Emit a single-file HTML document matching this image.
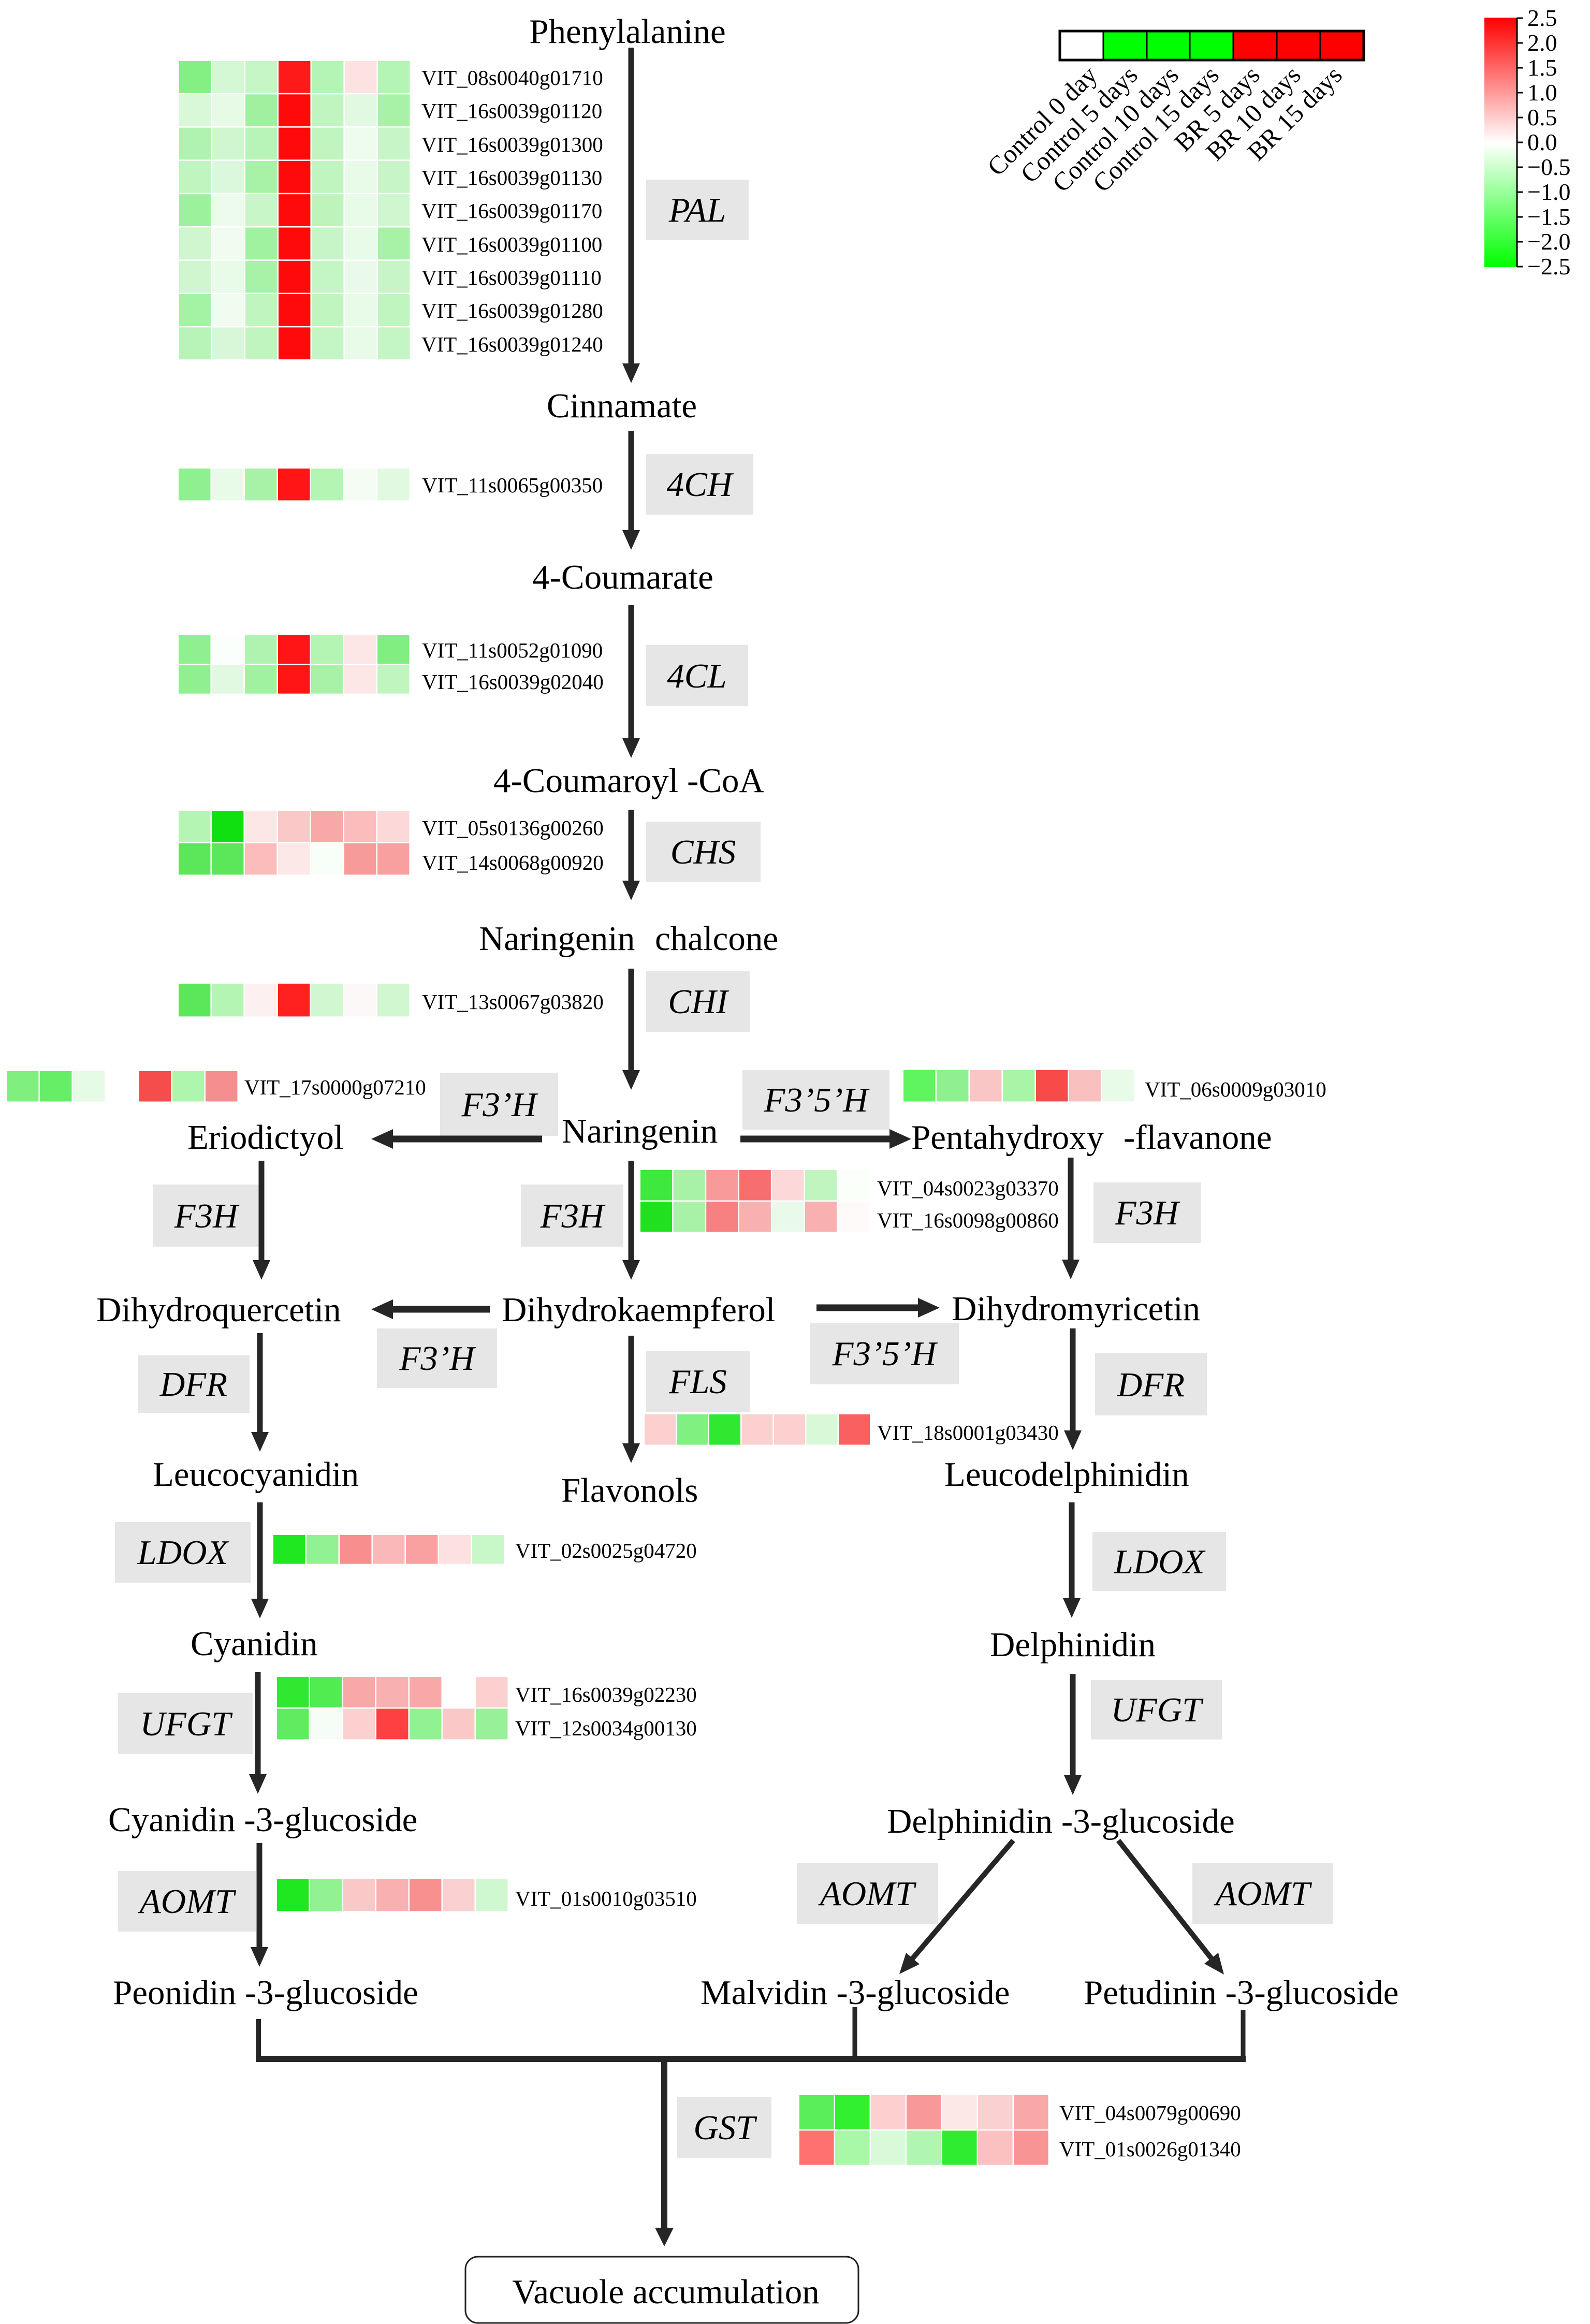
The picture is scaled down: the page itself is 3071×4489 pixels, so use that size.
<!DOCTYPE html>
<html>
<head>
<meta charset="utf-8">
<style>
  html,body{margin:0;padding:0;background:#fff;}
  svg{display:block;}
  .n{font-family:"Liberation Serif",serif;font-size:67px;fill:#000;}
  .e{font-family:"Liberation Serif",serif;font-size:67px;font-style:italic;fill:#000;text-anchor:middle;}
  .g{font-family:"Liberation Serif",serif;font-size:41px;fill:#000;}
  .t{font-family:"Liberation Serif",serif;font-size:46px;fill:#000;}
  .r{font-family:"Liberation Serif",serif;font-size:50px;fill:#000;text-anchor:end;}
</style>
</head>
<body>
<svg width="3071" height="4489" viewBox="0 0 3071 4489" xmlns="http://www.w3.org/2000/svg">
<defs>
  <linearGradient id="cb" x1="0" y1="0" x2="0" y2="1">
    <stop offset="0" stop-color="#ff0000"/>
    <stop offset="0.5" stop-color="#ffffff"/>
    <stop offset="1" stop-color="#00ff00"/>
  </linearGradient>
</defs>
<rect x="0" y="0" width="3071" height="4489" fill="#fff"/>

<!-- ============ Enzyme boxes ============ -->
<g fill="#e6e6e6">
  <rect x="1248" y="347" width="198" height="117"/>
  <rect x="1248" y="877" width="207" height="117"/>
  <rect x="1248" y="1246" width="197" height="118"/>
  <rect x="1248" y="1587" width="221" height="117"/>
  <rect x="1248" y="1876" width="200" height="117"/>
  <rect x="850" y="2072" width="228" height="122"/>
  <rect x="1434" y="2067" width="284" height="115"/>
  <rect x="295" y="2288" width="207" height="120"/>
  <rect x="1006" y="2288" width="198" height="120"/>
  <rect x="2112" y="2284" width="207" height="117"/>
  <rect x="728" y="2566" width="232" height="115"/>
  <rect x="1565" y="2555" width="287" height="119"/>
  <rect x="267" y="2618" width="215" height="111"/>
  <rect x="1248" y="2609" width="200" height="118"/>
  <rect x="2115" y="2614" width="216" height="120"/>
  <rect x="222" y="2940" width="262" height="117"/>
  <rect x="2110" y="2959" width="258" height="114"/>
  <rect x="228" y="3270" width="260" height="118"/>
  <rect x="2107" y="3245" width="253" height="115"/>
  <rect x="228" y="3614" width="266" height="117"/>
  <rect x="1539" y="3598" width="273" height="118"/>
  <rect x="2303" y="3598" width="272" height="118"/>
  <rect x="1308" y="4050" width="182" height="119"/>
</g>
<g class="e">
  <text class="e" x="1347" y="428">PAL</text>
  <text class="e" x="1351" y="958">4CH</text>
  <text class="e" x="1346" y="1328">4CL</text>
  <text class="e" x="1358" y="1668">CHS</text>
  <text class="e" x="1348" y="1957">CHI</text>
  <text class="e" x="964" y="2156">F3’H</text>
  <text class="e" x="1576" y="2147">F3’5’H</text>
  <text class="e" x="398" y="2371">F3H</text>
  <text class="e" x="1105" y="2371">F3H</text>
  <text class="e" x="2215" y="2365">F3H</text>
  <text class="e" x="844" y="2646">F3’H</text>
  <text class="e" x="1708" y="2637">F3’5’H</text>
  <text class="e" x="374" y="2696">DFR</text>
  <text class="e" x="1348" y="2691">FLS</text>
  <text class="e" x="2223" y="2697">DFR</text>
  <text class="e" x="353" y="3021">LDOX</text>
  <text class="e" x="2239" y="3039">LDOX</text>
  <text class="e" x="358" y="3352">UFGT</text>
  <text class="e" x="2233" y="3325">UFGT</text>
  <text class="e" x="361" y="3695">AOMT</text>
  <text class="e" x="1675" y="3680">AOMT</text>
  <text class="e" x="2439" y="3680">AOMT</text>
  <text class="e" x="1399" y="4132">GST</text>
</g>

<!-- ============ Heatmaps ============ -->
<!-- PAL -->
<g transform="translate(346,118) scale(64,64.3)">
  <g><rect x="0" y="0" width="0.96" height="0.96" fill="#84f084"/><rect x="1" y="0" width="0.96" height="0.96" fill="#d4f7d4"/><rect x="2" y="0" width="0.96" height="0.96" fill="#c6f6c6"/><rect x="3" y="0" width="0.96" height="0.96" fill="#ff1a1a"/><rect x="4" y="0" width="0.96" height="0.96" fill="#b4f4b4"/><rect x="5" y="0" width="0.96" height="0.96" fill="#fde2e2"/><rect x="6" y="0" width="0.96" height="0.96" fill="#b4f4b4"/></g>
  <g><rect x="0" y="1" width="0.96" height="0.96" fill="#d8f8d8"/><rect x="1" y="1" width="0.96" height="0.96" fill="#e6fae6"/><rect x="2" y="1" width="0.96" height="0.96" fill="#a0f0a0"/><rect x="3" y="1" width="0.96" height="0.96" fill="#ff0a0a"/><rect x="4" y="1" width="0.96" height="0.96" fill="#c0f5c0"/><rect x="5" y="1" width="0.96" height="0.96" fill="#e0f9e0"/><rect x="6" y="1" width="0.96" height="0.96" fill="#a8f2a8"/></g>
  <g><rect x="0" y="2" width="0.96" height="0.96" fill="#b0f3b0"/><rect x="1" y="2" width="0.96" height="0.96" fill="#d0f6d0"/><rect x="2" y="2" width="0.96" height="0.96" fill="#b8f4b8"/><rect x="3" y="2" width="0.96" height="0.96" fill="#ff0a0a"/><rect x="4" y="2" width="0.96" height="0.96" fill="#c0f5c0"/><rect x="5" y="2" width="0.96" height="0.96" fill="#eefcee"/><rect x="6" y="2" width="0.96" height="0.96" fill="#c8f5c8"/></g>
  <g><rect x="0" y="3" width="0.96" height="0.96" fill="#c0f5c0"/><rect x="1" y="3" width="0.96" height="0.96" fill="#dcf8dc"/><rect x="2" y="3" width="0.96" height="0.96" fill="#a8f2a8"/><rect x="3" y="3" width="0.96" height="0.96" fill="#ff0a0a"/><rect x="4" y="3" width="0.96" height="0.96" fill="#c0f5c0"/><rect x="5" y="3" width="0.96" height="0.96" fill="#e8fae8"/><rect x="6" y="3" width="0.96" height="0.96" fill="#c8f5c8"/></g>
  <g><rect x="0" y="4" width="0.96" height="0.96" fill="#9cf29c"/><rect x="1" y="4" width="0.96" height="0.96" fill="#ecfbec"/><rect x="2" y="4" width="0.96" height="0.96" fill="#c8f6c8"/><rect x="3" y="4" width="0.96" height="0.96" fill="#ff0a0a"/><rect x="4" y="4" width="0.96" height="0.96" fill="#bcf4bc"/><rect x="5" y="4" width="0.96" height="0.96" fill="#e8fae8"/><rect x="6" y="4" width="0.96" height="0.96" fill="#d0f6d0"/></g>
  <g><rect x="0" y="5" width="0.96" height="0.96" fill="#d0f6d0"/><rect x="1" y="5" width="0.96" height="0.96" fill="#f0fcf0"/><rect x="2" y="5" width="0.96" height="0.96" fill="#a0f2a0"/><rect x="3" y="5" width="0.96" height="0.96" fill="#ff0a0a"/><rect x="4" y="5" width="0.96" height="0.96" fill="#c8f5c8"/><rect x="5" y="5" width="0.96" height="0.96" fill="#e8fae8"/><rect x="6" y="5" width="0.96" height="0.96" fill="#a8f2a8"/></g>
  <g><rect x="0" y="6" width="0.96" height="0.96" fill="#d0f6d0"/><rect x="1" y="6" width="0.96" height="0.96" fill="#e8fae8"/><rect x="2" y="6" width="0.96" height="0.96" fill="#a8f2a8"/><rect x="3" y="6" width="0.96" height="0.96" fill="#ff0a0a"/><rect x="4" y="6" width="0.96" height="0.96" fill="#c4f5c4"/><rect x="5" y="6" width="0.96" height="0.96" fill="#eafaea"/><rect x="6" y="6" width="0.96" height="0.96" fill="#c8f5c8"/></g>
  <g><rect x="0" y="7" width="0.96" height="0.96" fill="#a4f2a4"/><rect x="1" y="7" width="0.96" height="0.96" fill="#f0fcf0"/><rect x="2" y="7" width="0.96" height="0.96" fill="#c0f5c0"/><rect x="3" y="7" width="0.96" height="0.96" fill="#ff0a0a"/><rect x="4" y="7" width="0.96" height="0.96" fill="#c0f5c0"/><rect x="5" y="7" width="0.96" height="0.96" fill="#e8fae8"/><rect x="6" y="7" width="0.96" height="0.96" fill="#c0f5c0"/></g>
  <g><rect x="0" y="8" width="0.96" height="0.96" fill="#b8f4b8"/><rect x="1" y="8" width="0.96" height="0.96" fill="#d8f7d8"/><rect x="2" y="8" width="0.96" height="0.96" fill="#c0f5c0"/><rect x="3" y="8" width="0.96" height="0.96" fill="#ff0a0a"/><rect x="4" y="8" width="0.96" height="0.96" fill="#c4f5c4"/><rect x="5" y="8" width="0.96" height="0.96" fill="#e8fae8"/><rect x="6" y="8" width="0.96" height="0.96" fill="#c4f5c4"/></g>
</g>
<g class="g">
  <text class="g" x="814" y="164">VIT_08s0040g01710</text>
  <text class="g" x="814" y="228">VIT_16s0039g01120</text>
  <text class="g" x="814" y="293">VIT_16s0039g01300</text>
  <text class="g" x="814" y="357">VIT_16s0039g01130</text>
  <text class="g" x="814" y="421">VIT_16s0039g01170</text>
  <text class="g" x="814" y="486">VIT_16s0039g01100</text>
  <text class="g" x="814" y="550">VIT_16s0039g01110</text>
  <text class="g" x="814" y="614">VIT_16s0039g01280</text>
  <text class="g" x="814" y="679">VIT_16s0039g01240</text>
</g>

<!-- 4CH -->
<g transform="translate(345,905) scale(64,64)">
  <rect x="0" y="0" width="0.96" height="0.96" fill="#8ef08e"/><rect x="1" y="0" width="0.96" height="0.96" fill="#e8fae8"/><rect x="2" y="0" width="0.96" height="0.96" fill="#a8f2a8"/><rect x="3" y="0" width="0.96" height="0.96" fill="#ff1515"/><rect x="4" y="0" width="0.96" height="0.96" fill="#b4f5b4"/><rect x="5" y="0" width="0.96" height="0.96" fill="#f4fcf4"/><rect x="6" y="0" width="0.96" height="0.96" fill="#e0f9e0"/>
</g>
<text class="g" x="815" y="951">VIT_11s0065g00350</text>

<!-- 4CL -->
<g transform="translate(345,1227) scale(64,57.5)">
  <rect x="0" y="0" width="0.96" height="0.96" fill="#8ef08e"/><rect x="1" y="0" width="0.96" height="0.96" fill="#fbfffb"/><rect x="2" y="0" width="0.96" height="0.96" fill="#b0f3b0"/><rect x="3" y="0" width="0.96" height="0.96" fill="#ff1515"/><rect x="4" y="0" width="0.96" height="0.96" fill="#b4f5b4"/><rect x="5" y="0" width="0.96" height="0.96" fill="#fde6e6"/><rect x="6" y="0" width="0.96" height="0.96" fill="#80ee80"/>
  <rect x="0" y="1" width="0.96" height="0.96" fill="#90f090"/><rect x="1" y="1" width="0.96" height="0.96" fill="#e0f9e0"/><rect x="2" y="1" width="0.96" height="0.96" fill="#a0f2a0"/><rect x="3" y="1" width="0.96" height="0.96" fill="#ff1515"/><rect x="4" y="1" width="0.96" height="0.96" fill="#a8f2a8"/><rect x="5" y="1" width="0.96" height="0.96" fill="#fde6e6"/><rect x="6" y="1" width="0.96" height="0.96" fill="#c0f5c0"/>
</g>
<text class="g" x="815" y="1270">VIT_11s0052g01090</text>
<text class="g" x="815" y="1331">VIT_16s0039g02040</text>

<!-- CHS -->
<g transform="translate(345,1566) scale(64,63)">
  <rect x="0" y="0" width="0.96" height="0.96" fill="#b4f5b4"/><rect x="1" y="0" width="0.96" height="0.96" fill="#10e010"/><rect x="2" y="0" width="0.96" height="0.96" fill="#fde6e6"/><rect x="3" y="0" width="0.96" height="0.96" fill="#fbc8c8"/><rect x="4" y="0" width="0.96" height="0.96" fill="#f9a8a8"/><rect x="5" y="0" width="0.96" height="0.96" fill="#fbbcbc"/><rect x="6" y="0" width="0.96" height="0.96" fill="#fdd8d8"/>
  <rect x="0" y="1" width="0.96" height="0.96" fill="#5ae85a"/><rect x="1" y="1" width="0.96" height="0.96" fill="#5ae85a"/><rect x="2" y="1" width="0.96" height="0.96" fill="#fbbcbc"/><rect x="3" y="1" width="0.96" height="0.96" fill="#fde8e8"/><rect x="4" y="1" width="0.96" height="0.96" fill="#f8fff8"/><rect x="5" y="1" width="0.96" height="0.96" fill="#f79a9a"/><rect x="6" y="1" width="0.96" height="0.96" fill="#f8a0a0"/>
</g>
<text class="g" x="815" y="1613">VIT_05s0136g00260</text>
<text class="g" x="815" y="1680">VIT_14s0068g00920</text>

<!-- CHI -->
<g transform="translate(345,1900) scale(64,66)">
  <rect x="0" y="0" width="0.96" height="0.96" fill="#5ae85a"/><rect x="1" y="0" width="0.96" height="0.96" fill="#b4f5b4"/><rect x="2" y="0" width="0.96" height="0.96" fill="#fdf0f0"/><rect x="3" y="0" width="0.96" height="0.96" fill="#ff2020"/><rect x="4" y="0" width="0.96" height="0.96" fill="#d0f7d0"/><rect x="5" y="0" width="0.96" height="0.96" fill="#fdf8f8"/><rect x="6" y="0" width="0.96" height="0.96" fill="#d0f7d0"/>
</g>
<text class="g" x="815" y="1949">VIT_13s0067g03820</text>

<!-- F3'H left -->
<g transform="translate(13,2069) scale(64,61)">
  <rect x="0" y="0" width="0.96" height="0.96" fill="#7ff07f"/><rect x="1" y="0" width="0.96" height="0.96" fill="#66ee66"/><rect x="2" y="0" width="0.96" height="0.96" fill="#e5fbe5"/><rect x="3" y="0" width="0.96" height="0.96" fill="#ffffff"/><rect x="4" y="0" width="0.96" height="0.96" fill="#f54c4c"/><rect x="5" y="0" width="0.96" height="0.96" fill="#aef5ae"/><rect x="6" y="0" width="0.96" height="0.96" fill="#f58e8e"/>
</g>
<text class="g" x="472" y="2114">VIT_17s0000g07210</text>

<!-- F3'5'H right -->
<g transform="translate(1745,2067) scale(64,63)">
  <rect x="0" y="0" width="0.96" height="0.96" fill="#5ef55e"/><rect x="1" y="0" width="0.96" height="0.96" fill="#8ef08e"/><rect x="2" y="0" width="0.96" height="0.96" fill="#f9c5c5"/><rect x="3" y="0" width="0.96" height="0.96" fill="#a8f5a8"/><rect x="4" y="0" width="0.96" height="0.96" fill="#f94a4a"/><rect x="5" y="0" width="0.96" height="0.96" fill="#f9c0c0"/><rect x="6" y="0" width="0.96" height="0.96" fill="#e8fbe8"/>
</g>
<text class="g" x="2211" y="2118">VIT_06s0009g03010</text>

<!-- F3H middle -->
<g transform="translate(1237,2260) scale(63.6,61)">
  <rect x="0" y="0" width="0.96" height="0.96" fill="#3ee83e"/><rect x="1" y="0" width="0.96" height="0.96" fill="#a8f2a8"/><rect x="2" y="0" width="0.96" height="0.96" fill="#f99a9a"/><rect x="3" y="0" width="0.96" height="0.96" fill="#f76e6e"/><rect x="4" y="0" width="0.96" height="0.96" fill="#fdd8d8"/><rect x="5" y="0" width="0.96" height="0.96" fill="#c0f5c0"/><rect x="6" y="0" width="0.96" height="0.96" fill="#fafffa"/>
  <rect x="0" y="1" width="0.96" height="0.96" fill="#20e020"/><rect x="1" y="1" width="0.96" height="0.96" fill="#a8f2a8"/><rect x="2" y="1" width="0.96" height="0.96" fill="#f78080"/><rect x="3" y="1" width="0.96" height="0.96" fill="#f9b0b0"/><rect x="4" y="1" width="0.96" height="0.96" fill="#eafaea"/><rect x="5" y="1" width="0.96" height="0.96" fill="#f9b0b0"/><rect x="6" y="1" width="0.96" height="0.96" fill="#fffafa"/>
</g>
<text class="g" x="1694" y="2309">VIT_04s0023g03370</text>
<text class="g" x="1694" y="2371">VIT_16s0098g00860</text>

<!-- FLS -->
<g transform="translate(1245,2732) scale(62.5,61)">
  <rect x="0" y="0" width="0.96" height="0.96" fill="#fdd0d0"/><rect x="1" y="0" width="0.96" height="0.96" fill="#80f080"/><rect x="2" y="0" width="0.96" height="0.96" fill="#30e830"/><rect x="3" y="0" width="0.96" height="0.96" fill="#fdd0d0"/><rect x="4" y="0" width="0.96" height="0.96" fill="#fdd0d0"/><rect x="5" y="0" width="0.96" height="0.96" fill="#d8f8d8"/><rect x="6" y="0" width="0.96" height="0.96" fill="#f96060"/>
</g>
<text class="g" x="1694" y="2781">VIT_18s0001g03430</text>

<!-- LDOX -->
<g transform="translate(528,2965) scale(64,58)">
  <rect x="0" y="0" width="0.96" height="0.96" fill="#20e820"/><rect x="1" y="0" width="0.96" height="0.96" fill="#90f290"/><rect x="2" y="0" width="0.96" height="0.96" fill="#f98e8e"/><rect x="3" y="0" width="0.96" height="0.96" fill="#fbb8b8"/><rect x="4" y="0" width="0.96" height="0.96" fill="#f9a0a0"/><rect x="5" y="0" width="0.96" height="0.96" fill="#fde0e0"/><rect x="6" y="0" width="0.96" height="0.96" fill="#c8f8c8"/>
</g>
<text class="g" x="995" y="3009">VIT_02s0025g04720</text>

<!-- UFGT -->
<g transform="translate(535,3239) scale(64,61.5)">
  <rect x="0" y="0" width="0.96" height="0.96" fill="#30e830"/><rect x="1" y="0" width="0.96" height="0.96" fill="#50ec50"/><rect x="2" y="0" width="0.96" height="0.96" fill="#f9a8a8"/><rect x="3" y="0" width="0.96" height="0.96" fill="#f9b0b0"/><rect x="4" y="0" width="0.96" height="0.96" fill="#f9a8a8"/><rect x="5" y="0" width="0.96" height="0.96" fill="#ffffff"/><rect x="6" y="0" width="0.96" height="0.96" fill="#fdd0d0"/>
  <rect x="0" y="1" width="0.96" height="0.96" fill="#60ec60"/><rect x="1" y="1" width="0.96" height="0.96" fill="#f6fdf6"/><rect x="2" y="1" width="0.96" height="0.96" fill="#fdd0d0"/><rect x="3" y="1" width="0.96" height="0.96" fill="#ff4040"/><rect x="4" y="1" width="0.96" height="0.96" fill="#90f290"/><rect x="5" y="1" width="0.96" height="0.96" fill="#fbc8c8"/><rect x="6" y="1" width="0.96" height="0.96" fill="#98f098"/>
</g>
<text class="g" x="995" y="3287">VIT_16s0039g02230</text>
<text class="g" x="995" y="3352">VIT_12s0034g00130</text>

<!-- AOMT -->
<g transform="translate(535,3629) scale(64,65)">
  <rect x="0" y="0" width="0.96" height="0.96" fill="#20e820"/><rect x="1" y="0" width="0.96" height="0.96" fill="#90f290"/><rect x="2" y="0" width="0.96" height="0.96" fill="#fbc8c8"/><rect x="3" y="0" width="0.96" height="0.96" fill="#f9b0b0"/><rect x="4" y="0" width="0.96" height="0.96" fill="#f99090"/><rect x="5" y="0" width="0.96" height="0.96" fill="#fbd0d0"/><rect x="6" y="0" width="0.96" height="0.96" fill="#d0f8d0"/>
</g>
<text class="g" x="995" y="3681">VIT_01s0010g03510</text>

<!-- GST -->
<g transform="translate(1544,4047) scale(69,68.5)">
  <rect x="0" y="0" width="0.965" height="0.965" fill="#5aee5a"/><rect x="1" y="0" width="0.965" height="0.965" fill="#30f030"/><rect x="2" y="0" width="0.965" height="0.965" fill="#fdd0d0"/><rect x="3" y="0" width="0.965" height="0.965" fill="#f99898"/><rect x="4" y="0" width="0.965" height="0.965" fill="#fde8e8"/><rect x="5" y="0" width="0.965" height="0.965" fill="#fbd0d0"/><rect x="6" y="0" width="0.965" height="0.965" fill="#f9a8a8"/>
  <rect x="0" y="1" width="0.965" height="0.965" fill="#ff7070"/><rect x="1" y="1" width="0.965" height="0.965" fill="#a8f8a8"/><rect x="2" y="1" width="0.965" height="0.965" fill="#d8fad8"/><rect x="3" y="1" width="0.965" height="0.965" fill="#b0f5b0"/><rect x="4" y="1" width="0.965" height="0.965" fill="#30ec30"/><rect x="5" y="1" width="0.965" height="0.965" fill="#fbc0c0"/><rect x="6" y="1" width="0.965" height="0.965" fill="#f99494"/>
</g>
<text class="g" x="2046" y="4095">VIT_04s0079g00690</text>
<text class="g" x="2046" y="4165">VIT_01s0026g01340</text>

<!-- ============ Compound labels ============ -->
<text class="n" x="1212" y="83" text-anchor="middle">Phenylalanine</text>
<text class="n" x="1201" y="806" text-anchor="middle">Cinnamate</text>
<text class="n" x="1203" y="1137" text-anchor="middle">4-Coumarate</text>
<text class="n" x="953" y="1530">4-Coumaroyl -CoA</text>
<text class="n" x="925" y="1835">Naringenin</text>
<text class="n" x="1265" y="1835">chalcone</text>
<text class="n" x="1085" y="2207">Naringenin</text>
<text class="n" x="362" y="2219">Eriodictyol</text>
<text class="n" x="1760" y="2219">Pentahydroxy</text>
<text class="n" x="2170" y="2219">-flavanone</text>
<text class="n" x="186" y="2552">Dihydroquercetin</text>
<text class="n" x="969" y="2552">Dihydrokaempferol</text>
<text class="n" x="1838" y="2550">Dihydromyricetin</text>
<text class="n" x="295" y="2870">Leucocyanidin</text>
<text class="n" x="1084" y="2901">Flavonols</text>
<text class="n" x="1824" y="2870">Leucodelphinidin</text>
<text class="n" x="368" y="3197">Cyanidin</text>
<text class="n" x="1912" y="3199">Delphinidin</text>
<text class="n" x="209" y="3537">Cyanidin -3-glucoside</text>
<text class="n" x="1713" y="3540">Delphinidin -3-glucoside</text>
<text class="n" x="218" y="3871">Peonidin -3-glucoside</text>
<text class="n" x="1353" y="3871">Malvidin -3-glucoside</text>
<text class="n" x="2093" y="3871">Petudinin  -3-glucoside</text>

<!-- ============ Arrows ============ -->
<g stroke="#262626" stroke-width="11" fill="none">
  <line x1="1219" y1="92" x2="1219" y2="710"/>
  <line x1="1219" y1="832" x2="1219" y2="1032"/>
  <line x1="1219" y1="1169" x2="1219" y2="1434"/>
  <line x1="1219" y1="1564" x2="1219" y2="1709"/>
  <line x1="1219" y1="1871" x2="1219" y2="2075"/>
  <line x1="505" y1="2242" x2="505" y2="2442"/>
  <line x1="1219" y1="2242" x2="1219" y2="2442"/>
  <line x1="2068" y1="2236" x2="2068" y2="2441"/>
  <line x1="502" y1="2575" x2="502" y2="2774"/>
  <line x1="1219" y1="2580" x2="1219" y2="2796"/>
  <line x1="2072" y1="2566" x2="2072" y2="2771"/>
  <line x1="502" y1="2902" x2="502" y2="3096"/>
  <line x1="2070" y1="2902" x2="2070" y2="3095"/>
  <line x1="498" y1="3230" x2="498" y2="3435"/>
  <line x1="2072" y1="3234" x2="2072" y2="3437"/>
  <line x1="501" y1="3560" x2="501" y2="3769"/>
</g>
<line x1="1283" y1="3977" x2="1283" y2="4310" stroke="#262626" stroke-width="12"/>
<g stroke="#262626" stroke-width="13" fill="none">
  <line x1="1047" y1="2200" x2="752" y2="2200"/>
  <line x1="1430" y1="2200" x2="1725" y2="2200"/>
  <line x1="946" y1="2529" x2="752" y2="2529"/>
  <line x1="1577" y1="2526" x2="1780" y2="2526"/>
</g>
<g stroke="#262626" stroke-width="10" fill="none">
  <line x1="1957" y1="3555" x2="1759" y2="3787"/>
  <line x1="2160" y1="3555" x2="2343" y2="3787"/>
</g>
<g fill="#262626">
  <polygon points="1202,702 1236,702 1219,740"/>
  <polygon points="1202,1024 1236,1024 1219,1062"/>
  <polygon points="1202,1426 1236,1426 1219,1464"/>
  <polygon points="1202,1701 1236,1701 1219,1739"/>
  <polygon points="1202,2067 1236,2067 1219,2105"/>
  <polygon points="488,2434 522,2434 505,2472"/>
  <polygon points="1202,2434 1236,2434 1219,2472"/>
  <polygon points="2051,2433 2085,2433 2068,2471"/>
  <polygon points="485,2766 519,2766 502,2804"/>
  <polygon points="1202,2788 1236,2788 1219,2826"/>
  <polygon points="2055,2763 2089,2763 2072,2801"/>
  <polygon points="485,3088 519,3088 502,3126"/>
  <polygon points="2053,3087 2087,3087 2070,3125"/>
  <polygon points="481,3427 515,3427 498,3465"/>
  <polygon points="2055,3429 2089,3429 2072,3467"/>
  <polygon points="484,3761 518,3761 501,3799"/>
  <polygon points="1265,4303 1301,4303 1283,4339"/>
  <polygon points="717,2200 759,2181 759,2219"/>
  <polygon points="1760,2200 1718,2181 1718,2219"/>
  <polygon points="717,2529 759,2510 759,2548"/>
  <polygon points="1815,2526 1773,2507 1773,2545"/>
  <polygon points="1737,3813 1750,3772 1776,3794"/>
  <polygon points="2364,3814 2326,3793 2353,3772"/>
</g>

<!-- bus lines -->
<g stroke="#262626" fill="none">
  <line x1="499" y1="3900" x2="499" y2="3983" stroke-width="10"/>
  <line x1="1651" y1="3877" x2="1651" y2="3983" stroke-width="9"/>
  <line x1="2401" y1="3883" x2="2401" y2="3983" stroke-width="9"/>
  <line x1="494" y1="3977" x2="2406" y2="3977" stroke-width="12"/>
</g>

<!-- Vacuole box -->
<rect x="899" y="4359" width="759" height="128" rx="24" ry="24" fill="none" stroke="#222" stroke-width="3"/>
<text class="n" x="1286" y="4449" text-anchor="middle">Vacuole accumulation</text>

<!-- ============ Legend ============ -->
<g>
  <rect x="2047" y="60" width="84" height="56" fill="#ffffff"/>
  <rect x="2131" y="60" width="84" height="56" fill="#00ff00"/>
  <rect x="2215" y="60" width="84" height="56" fill="#00ff00"/>
  <rect x="2298" y="60" width="84" height="56" fill="#00ff00"/>
  <rect x="2382" y="60" width="84" height="56" fill="#ff0000"/>
  <rect x="2466" y="60" width="84" height="56" fill="#ff0000"/>
  <rect x="2550" y="60" width="84" height="56" fill="#ff0000"/>
  <g stroke="#000" stroke-width="3">
    <line x1="2131" y1="60" x2="2131" y2="116"/>
    <line x1="2215" y1="60" x2="2215" y2="116"/>
    <line x1="2298" y1="60" x2="2298" y2="116"/>
    <line x1="2382" y1="60" x2="2382" y2="116"/>
    <line x1="2466" y1="60" x2="2466" y2="116"/>
    <line x1="2550" y1="60" x2="2550" y2="116"/>
  </g>
  <rect x="2047" y="60" width="587" height="56" fill="none" stroke="#000" stroke-width="5"/>
</g>
<g class="r">
  <text class="r" x="2122" y="148" transform="rotate(-45 2122 148)">Control 0 day</text>
  <text class="r" x="2200" y="148" transform="rotate(-45 2200 148)">Control 5 days</text>
  <text class="r" x="2279" y="148" transform="rotate(-45 2279 148)">Control 10 days</text>
  <text class="r" x="2357" y="148" transform="rotate(-45 2357 148)">Control 15 days</text>
  <text class="r" x="2436" y="148" transform="rotate(-45 2436 148)">BR 5 days</text>
  <text class="r" x="2515" y="148" transform="rotate(-45 2515 148)">BR 10 days</text>
  <text class="r" x="2595" y="148" transform="rotate(-45 2595 148)">BR 15 days</text>
</g>

<!-- Colorbar -->
<rect x="2867" y="34" width="62" height="482" fill="url(#cb)"/>
<g stroke="#000" stroke-width="3">
  <line x1="2930" y1="34" x2="2930" y2="516"/>
  <line x1="2930" y1="35" x2="2941" y2="35"/>
  <line x1="2930" y1="83" x2="2941" y2="83"/>
  <line x1="2930" y1="131" x2="2941" y2="131"/>
  <line x1="2930" y1="179" x2="2941" y2="179"/>
  <line x1="2930" y1="227" x2="2941" y2="227"/>
  <line x1="2930" y1="275" x2="2941" y2="275"/>
  <line x1="2930" y1="323" x2="2941" y2="323"/>
  <line x1="2930" y1="371" x2="2941" y2="371"/>
  <line x1="2930" y1="419" x2="2941" y2="419"/>
  <line x1="2930" y1="467" x2="2941" y2="467"/>
  <line x1="2930" y1="515" x2="2941" y2="515"/>
</g>
<g class="t">
  <text class="t" x="2950" y="50">2.5</text>
  <text class="t" x="2950" y="98">2.0</text>
  <text class="t" x="2950" y="146">1.5</text>
  <text class="t" x="2950" y="194">1.0</text>
  <text class="t" x="2950" y="242">0.5</text>
  <text class="t" x="2950" y="290">0.0</text>
  <text class="t" x="2950" y="338">−0.5</text>
  <text class="t" x="2950" y="386">−1.0</text>
  <text class="t" x="2950" y="434">−1.5</text>
  <text class="t" x="2950" y="482">−2.0</text>
  <text class="t" x="2950" y="530">−2.5</text>
</g>
</svg>
</body>
</html>
